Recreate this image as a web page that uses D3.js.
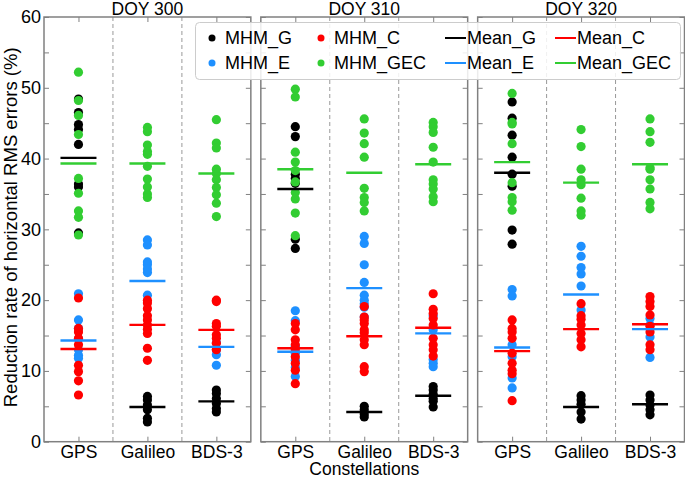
<!DOCTYPE html>
<html>
<head>
<meta charset="utf-8">
<script src="https://cdn.jsdelivr.net/npm/d3@7"></script>
<style>
  body { margin: 0; background: #fff; }
  svg { display: block; font-family: "Liberation Sans", Arial, sans-serif; }
</style>
</head>
<body>
<div id="chart"></div>
<script>
// panels and columns
var days = ["DOY 300", "DOY 310", "DOY 320"];
var systems = ["GPS", "Galileo", "BDS-3"];
var yTicks = [0, 10, 20, 30, 40, 50, 60];

// point values, [day][system]
var mhmG = [
    [[48.4, 46.5, 44.8, 44.1, 42.0, 36.4, 36.0, 29.5], [6.4, 5.9, 5.2, 4.5, 3.3, 2.8], [7.3, 6.8, 6.1, 5.4, 4.7, 4.2]],
    [[44.5, 43.1, 37.8, 37.2, 36.5, 28.6, 27.3], [5.0, 4.5, 3.9, 3.5], [7.8, 7.3, 6.7, 6.1, 5.7, 4.9]],
    [[48.0, 45.7, 43.3, 40.2, 37.8, 36.1, 29.9, 27.9], [6.5, 5.9, 5.3, 4.2, 3.2], [6.6, 5.9, 5.2, 4.5, 3.8]]
];
var mhmE = [
    [[20.9, 17.2, 16.0, 14.5, 13.0, 12.2, 11.8], [28.5, 27.8, 25.4, 25.0, 24.4, 23.9, 20.7], [14.0, 13.0, 12.3, 10.8]],
    [[18.5, 17.1, 13.5, 12.5, 11.5, 10.5, 9.2], [29.0, 28.0, 25.0, 22.5, 20.7, 20.0, 19.5, 19.0, 17.6], [17.8, 15.8, 11.6, 11.1, 10.6]],
    [[21.5, 20.6, 13.7, 12.0, 9.0, 7.6], [27.6, 26.2, 24.6, 23.7, 22.0, 18.6], [17.4, 16.5, 14.8, 11.9]]
];
var mhmC = [
    [[20.3, 16.0, 15.5, 14.6, 13.7, 10.8, 9.9, 8.6, 6.6], [20.0, 19.6, 18.8, 17.8, 17.2, 16.5, 15.9, 15.3, 13.2, 11.5], [20.0, 19.8, 16.7, 16.3, 15.1, 14.6, 13.9, 13.0]],
    [[16.7, 15.8, 14.4, 13.7, 13.0, 12.0, 11.1, 10.1, 8.2], [19.1, 17.6, 17.2, 16.7, 15.8, 15.4, 14.4, 13.7, 10.6, 9.9], [20.9, 18.7, 18.1, 17.4, 16.5, 14.6, 13.7, 13.0, 12.1]],
    [[17.2, 16.0, 15.5, 14.6, 12.5, 11.1, 10.1, 9.6, 5.8], [19.5, 17.8, 17.3, 16.5, 15.3, 14.4, 13.4], [20.5, 19.8, 19.1, 17.9, 16.3, 15.5, 13.7, 13.0]]
];
var mhmGEC = [
    [[52.2, 48.2, 46.1, 43.4, 37.2, 35.1, 32.6, 31.7, 29.2], [44.4, 43.8, 41.9, 41.0, 40.6, 38.9, 37.1, 36.0, 35.0, 34.5], [45.5, 42.2, 41.5, 38.5, 37.9, 37.0, 35.9, 34.9, 33.7, 31.8]],
    [[49.8, 48.7, 40.9, 39.5, 38.3, 36.7, 35.2, 34.3, 32.3, 29.1], [45.6, 43.6, 42.1, 40.2, 35.8, 34.5, 33.8, 32.6], [45.1, 44.5, 43.7, 41.6, 39.5, 37.0, 36.4, 35.7, 34.6, 33.9]],
    [[49.2, 45.1, 44.9, 42.1, 36.6, 34.5, 33.9, 32.7], [44.1, 41.7, 38.5, 37.0, 36.3, 34.4, 32.6, 32.0], [45.6, 43.8, 42.3, 38.7, 38.5, 37.0, 35.7, 33.8, 32.9]]
];

// means, [day][system]
var meanG = [[40.1, 4.9, 5.7], [35.7, 4.2, 6.5], [38.0, 4.9, 5.3]];
var meanE = [[14.3, 22.7, 13.4], [12.7, 21.7, 15.3], [13.3, 20.8, 15.9]];
var meanC = [[13.1, 16.5, 15.8], [13.2, 14.9, 16.1], [12.8, 15.9, 16.6]];
var meanGEC = [[39.3, 39.3, 37.9], [38.5, 38.0, 39.2], [39.5, 36.6, 39.2]];

var colors = {G: "#000000", E: "#1E90FF", C: "#FF0000", GEC: "#32CD32"};

var dotSeries = [
    {name: "MHM_G", key: "G", values: mhmG},
    {name: "MHM_E", key: "E", values: mhmE},
    {name: "MHM_C", key: "C", values: mhmC},
    {name: "MHM_GEC", key: "GEC", values: mhmGEC}
];
var meanSeries = [
    {name: "Mean_G", key: "G", values: meanG},
    {name: "Mean_E", key: "E", values: meanE},
    {name: "Mean_C", key: "C", values: meanC},
    {name: "Mean_GEC", key: "GEC", values: meanGEC}
];

var width = 685, height = 478;
var frame = "#808080";

var svg = d3.select("#chart").append("svg")
    .attr("width", width)
    .attr("height", height);

var y = d3.scaleLinear().domain([0, 60]).range([441.7, 17]);
var xPanel = d3.scaleBand().domain(days).range([44, 684.5]).paddingInner(10 / 217);
var xSys = d3.scaleBand().domain(systems).range([0, xPanel.bandwidth()]);

days.forEach(function(day, di) {
    var g = svg.append("g").attr("transform", "translate(" + xPanel(day) + ",0)");
    var w = xPanel.bandwidth();

    // dashed dividers
    systems.slice(1).forEach(function(s) {
        g.append("line")
            .attr("x1", xSys(s)).attr("x2", xSys(s))
            .attr("y1", y(60)).attr("y2", y(0))
            .attr("stroke", "#999").attr("stroke-width", 1)
            .attr("stroke-dasharray", "4,3");
    });

    // y ticks, inward both sides
    var left = d3.axisLeft(y).tickValues(d3.range(0, 61, 5)).tickSizeInner(-5).tickSizeOuter(0)
        .tickFormat(function(d) { return (di === 0 && yTicks.indexOf(d) >= 0) ? d : ""; });
    var gl = g.append("g").call(left);
    var right = d3.axisRight(y).tickValues(d3.range(0, 61, 5)).tickSizeInner(-5).tickSizeOuter(0).tickFormat("");
    var gr = g.append("g").attr("transform", "translate(" + w + ",0)").call(right);

    // x ticks at column centres
    var xc = d3.scaleOrdinal().domain(systems).range(systems.map(function(s) { return xSys(s) + xSys.bandwidth() / 2; }));
    var bottom = d3.axisBottom(xc).tickSizeInner(-5).tickSizeOuter(0).tickPadding(3.5);
    var gb = g.append("g").attr("transform", "translate(0," + y(0) + ")").call(bottom);
    var top = d3.axisTop(xc).tickSizeInner(-5).tickSizeOuter(0).tickFormat("");
    var gt = g.append("g").attr("transform", "translate(0," + y(60) + ")").call(top);

    [gl, gr, gb, gt].forEach(function(a) {
        a.select(".domain").remove();
        a.selectAll("line").attr("stroke", frame);
        a.selectAll("text").attr("font-size", 17.5).attr("fill", "#000")
            .attr("font-family", "Liberation Sans, Arial, sans-serif");
    });
    gl.selectAll("text").attr("x", -3).attr("font-size", 18);

    // frame
    g.append("rect")
        .attr("x", 0).attr("y", y(60))
        .attr("width", w).attr("height", y(0) - y(60))
        .attr("fill", "none").attr("stroke", frame).attr("stroke-width", 1.5);

    // dots
    dotSeries.forEach(function(ser) {
        systems.forEach(function(s, si) {
            g.selectAll(null)
                .data(ser.values[di][si])
                .enter().append("circle")
                .attr("cx", xc(s))
                .attr("cy", function(d) { return y(d); })
                .attr("r", 4.6)
                .attr("fill", colors[ser.key]);
        });
    });

    // mean lines
    meanSeries.forEach(function(ser) {
        g.selectAll(null)
            .data(systems)
            .enter().append("line")
            .attr("x1", function(s) { return xc(s) - 18; })
            .attr("x2", function(s) { return xc(s) + 18; })
            .attr("y1", function(s, si) { return y(ser.values[di][si]); })
            .attr("y2", function(s, si) { return y(ser.values[di][si]); })
            .attr("stroke", colors[ser.key])
            .attr("stroke-width", 2.4);
    });

    // title
    svg.append("text")
        .attr("x", xPanel(day) + w / 2)
        .attr("y", 14.5)
        .attr("text-anchor", "middle")
        .attr("font-size", 17.5)
        .text(day);
});

// axis titles
svg.append("text")
    .attr("transform", "translate(17," + (y(30) - 2) + ") rotate(-90)")
    .attr("text-anchor", "middle")
    .attr("font-size", 18.5)
    .text("Reduction rate of horizontal RMS errors (%)");

svg.append("text")
    .attr("x", xPanel(days[1]) + xPanel.bandwidth() / 2)
    .attr("y", 475)
    .attr("text-anchor", "middle")
    .attr("font-size", 17.5)
    .text("Constellations");

// legend
var legend = svg.append("g");
legend.append("rect")
    .attr("x", 195.5).attr("y", 22.5)
    .attr("width", 485).attr("height", 57)
    .attr("rx", 4)
    .attr("fill", "#fff").attr("fill-opacity", 0.85)
    .attr("stroke", "#cccccc");

var legendItems = [
    {label: "MHM_G", key: "G", type: "dot", col: 0, row: 0},
    {label: "MHM_C", key: "C", type: "dot", col: 1, row: 0},
    {label: "Mean_G", key: "G", type: "line", col: 2, row: 0},
    {label: "Mean_C", key: "C", type: "line", col: 3, row: 0},
    {label: "MHM_E", key: "E", type: "dot", col: 0, row: 1},
    {label: "MHM_GEC", key: "GEC", type: "dot", col: 1, row: 1},
    {label: "Mean_E", key: "E", type: "line", col: 2, row: 1},
    {label: "Mean_GEC", key: "GEC", type: "line", col: 3, row: 1}
];
var colX = [212, 321, 445, 555];
var rowY = [38, 63];

legendItems.forEach(function(it) {
    var x0 = colX[it.col], yy = rowY[it.row];
    var tx;
    if (it.type === "dot") {
        legend.append("circle").attr("cx", x0).attr("cy", yy).attr("r", 3.5).attr("fill", colors[it.key]);
        tx = x0 + 13;
    } else {
        legend.append("line").attr("x1", x0).attr("x2", x0 + 21).attr("y1", yy).attr("y2", yy)
            .attr("stroke", colors[it.key]).attr("stroke-width", 2);
        tx = x0 + 22;
    }
    legend.append("text")
        .attr("x", tx).attr("y", yy)
        .attr("dy", "0.35em")
        .attr("font-size", 18)
        .text(it.label);
});
</script>
</body>
</html>
